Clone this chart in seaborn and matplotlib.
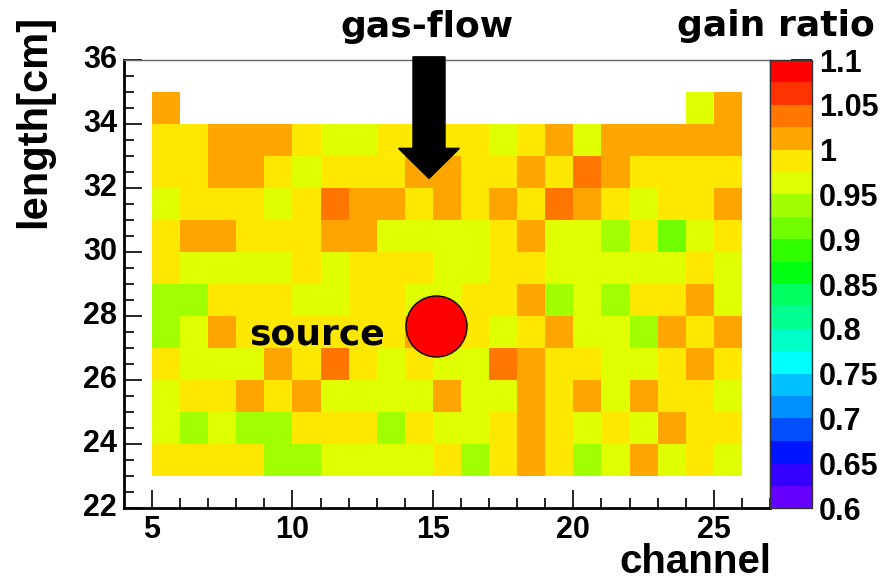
import numpy as np
import pandas as pd
import matplotlib
matplotlib.use("Agg")
from matplotlib import pyplot as plt
from matplotlib.colors import ListedColormap, BoundaryNorm
import seaborn as sns

Y, YG, G, LG, O, DO = 0.99, 0.96, 0.94, 0.91, 1.01, 1.04
nan = np.nan

channels = list(range(5, 26))
lengths = list(range(34, 22, -1))  # row lower edges, top to bottom

row_34 = [O] + [nan] * 18 + [YG, O]
row_33 = [Y, Y, O, O, O, Y, YG, YG, Y, Y, Y, Y, YG, Y, O, YG, O, O, O, O, O]
row_32 = [Y, Y, O, O, Y, YG, Y, Y, Y, O, O, Y, Y, O, Y, DO, O, Y, Y, Y, Y]
row_31 = [YG, Y, Y, Y, YG, Y, DO, O, O, Y, O, Y, O, Y, DO, O, Y, YG, Y, Y, O]
row_30 = [Y, O, O, Y, Y, Y, O, O, YG, YG, YG, YG, Y, O, YG, YG, G, Y, LG, YG, Y]
row_29 = [Y, YG, YG, YG, YG, Y, YG, Y, Y, Y, YG, YG, Y, Y, YG, YG, YG, YG, YG, Y, YG]
row_28 = [G, G, Y, Y, Y, YG, YG, Y, Y, YG, YG, Y, Y, O, G, YG, G, Y, Y, O, YG]
row_27 = [G, YG, O, Y, Y, Y, Y, Y, Y, O, Y, Y, YG, Y, O, YG, YG, G, O, Y, O]
row_26 = [Y, YG, YG, YG, O, Y, DO, Y, YG, Y, YG, YG, DO, O, Y, Y, YG, YG, Y, O, Y]
row_25 = [YG, Y, Y, O, Y, O, YG, YG, YG, YG, O, YG, YG, O, Y, O, YG, O, Y, Y, YG]
row_24 = [YG, G, YG, G, G, Y, Y, Y, G, Y, YG, YG, Y, O, Y, YG, Y, YG, O, Y, Y]
row_23 = [Y, Y, Y, Y, G, G, YG, YG, YG, YG, Y, G, Y, O, Y, G, YG, O, YG, Y, YG]

rows = [row_34, row_33, row_32, row_31, row_30, row_29,
        row_28, row_27, row_26, row_25, row_24, row_23]

palette = ["#6600FF", "#3300FF", "#0015FF", "#0050FF", "#0090FF",
           "#00C0FF", "#00FFFF", "#00FFC8", "#00FF90", "#00FF60",
           "#00FF10", "#30FF00", "#70FF00", "#A0FF00", "#E0FF00",
           "#FFE800", "#FFA500", "#FF7700", "#FF3300", "#FF0000"]
levels = np.round(np.linspace(0.6, 1.1, 21), 3)
cbar_ticks = [0.6, 0.65, 0.7, 0.75, 0.8, 0.85, 0.9, 0.95, 1.0, 1.05, 1.1]
cbar_labels = ["0.6", "0.65", "0.7", "0.75", "0.8", "0.85", "0.9", "0.95", "1", "1.05", "1.1"]

x_major = [5, 10, 15, 20, 25]
y_major = [22, 24, 26, 28, 30, 32, 34, 36]

df = pd.DataFrame(rows, index=lengths, columns=channels)

sns.set_style("white")
plt.rcParams["font.family"] = ["Liberation Sans", "DejaVu Sans"]
plt.rcParams["font.weight"] = "bold"
plt.rcParams["text.color"] = "black"
plt.rcParams["xtick.color"] = "black"
plt.rcParams["ytick.color"] = "black"
plt.rcParams["axes.labelcolor"] = "black"

fig = plt.figure(figsize=(8.83, 5.8), dpi=100)
ax = fig.add_axes([0.1404, 0.1241, 0.7316, 0.7724])
cax = fig.add_axes([0.872, 0.1241, 0.0476, 0.7724])

cmap = ListedColormap(palette)
norm = BoundaryNorm(levels, cmap.N)
sns.heatmap(df, ax=ax, cbar_ax=cax, cmap=cmap, norm=norm,
            cbar_kws={"ticks": cbar_ticks})

# heatmap cells sit at [i, i+1]; map channel c -> c - 5, length v -> 35 - v
x0, y0 = channels[0], lengths[0] + 1
ax.set_xlim(4 - x0, 27 - x0)
ax.set_ylim(y0 - 22, y0 - 36)
ax.set_xticks([c - x0 for c in x_major])
ax.set_xticklabels([str(c) for c in x_major], rotation=0)
ax.set_xticks([c - x0 for c in range(4, 28)], minor=True)
ax.set_yticks([y0 - v for v in y_major])
ax.set_yticklabels([str(v) for v in y_major], rotation=0)
ax.set_yticks([y0 - v / 2 for v in range(44, 73)], minor=True)
ax.set_xlabel("")
ax.set_ylabel("")

for side in ["left", "bottom"]:
    ax.spines[side].set_visible(True)
    ax.spines[side].set_color("black")
    ax.spines[side].set_linewidth(2)
for side in ["top", "right"]:
    ax.spines[side].set_visible(True)
    ax.spines[side].set_color("#666666")
    ax.spines[side].set_linewidth(1)

ax.tick_params(which="both", direction="in", bottom=True, left=True,
               top=False, right=False, color="black", labelcolor="black",
               width=1.2)
ax.tick_params(which="major", length=13, labelsize=22, pad=5)
ax.tick_params(which="minor", length=7)

cb = ax.collections[0].colorbar
cb.outline.set_linewidth(1)
cb.outline.set_edgecolor("#333333")
cb.set_ticklabels(cbar_labels)
cax.tick_params(direction="in", length=15, width=1.2, color="black",
                labelcolor="black", labelsize=22, pad=5)
cax.minorticks_off()

# gas-flow arrow and source marker
ax.arrow(14.86 - x0, y0 - 36.1, 0, 3.8, width=1.14, head_width=2.17,
         head_length=0.94, length_includes_head=True, fc="black", ec="black",
         clip_on=False, zorder=5)
ax.text(14.79 - x0, y0 - 36.72, "gas-flow", ha="center", va="baseline",
        fontsize=26, fontweight="bold", family="DejaVu Sans", clip_on=False)
ax.scatter([15.1 - x0], [y0 - 27.7], s=1930, color="red", edgecolor="black",
           linewidth=1, zorder=5)
ax.text(13.29 - x0, y0 - 27.12, "source", ha="right", va="baseline",
        fontsize=26, fontweight="bold", family="DejaVu Sans", zorder=6)

fig.text(0.991, 1 - 36 / 580, "gain ratio", ha="right", va="baseline",
         fontsize=26, fontweight="bold", family="DejaVu Sans")
fig.text(771 / 883, 1 - 573 / 580, "channel", ha="right", va="baseline",
         fontsize=29, fontweight="bold")
fig.text(34 / 883, 1 - 15 / 580, "length[cm]", rotation=90, ha="center",
         va="top", fontsize=30, fontweight="bold")

fig.savefig("out.png", dpi=100)
